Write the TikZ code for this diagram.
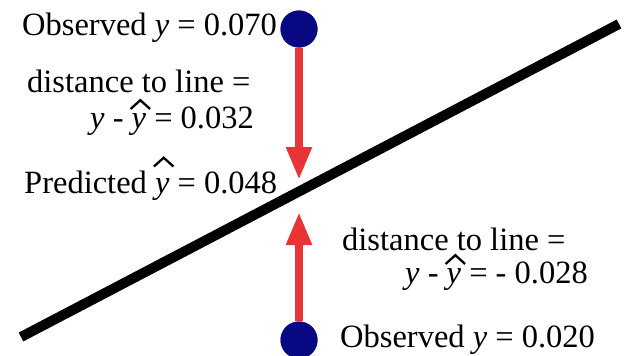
\documentclass[tikz,border=0pt]{standalone}
\usepackage{fontspec}
\setmainfont{Liberation Serif}
\usetikzlibrary{arrows.meta}
\definecolor{dotblue}{RGB}{8,8,130}
\definecolor{arrowred}{RGB}{232,52,52}
\newcommand\hatmark[1]{\makebox[0pt][l]{\hspace*{-0.07em}\raisebox{#1}{\tikz\draw[line width=2.3pt,line join=miter,line cap=butt] (0,0) -- (0.3em,0.27em) -- (0.6em,0);}}}
\newcommand\yhat[1][0.55em]{\hatmark{#1}\textit{y}}
\begin{document}
\begin{tikzpicture}[x=1pt,y=-1pt,
  lbl/.style={inner sep=0pt, anchor=base west, font=\fontsize{32.5}{39}\selectfont},
  dot/.style={circle, fill=dotblue, minimum size=37pt, inner sep=0pt},
  dist/.style={draw=arrowred, fill=arrowred, line width=8pt, -{Triangle[width=24pt,length=33pt]}}]
\useasboundingbox (0,0) rectangle (624,356);
\coordinate (L1) at (21,337);
\coordinate (L2) at (619,24);
\draw[line width=10pt] (L1) -- (L2);
\node[dot] (obsA) at (299,29) {};
\node[dot] (obsB) at (299,340) {};
\coordinate (tipA) at (299,180);
\coordinate (tipB) at (299,212);
\draw[dist] (obsA) -- (tipA);
\draw[dist] (obsB) -- (tipB);
\node[dot] at (obsA) {};
\node[dot] at (obsB) {};
\node[lbl] (obsAtext) at (22,35) {Observed \textit{y} = 0.070};
\node[lbl] (distA1) at (27,92) {distance to line =};
\node[lbl] (distA2) at (90,128) {\textit{y} - \yhat{} = 0.032};
\node[lbl] (pred) at (24,193) {Predicted \yhat[0.78em]{} = 0.048};
\node[lbl] (distB1) at (342,250) {distance to line =};
\node[lbl] (distB2) at (405,283) {\textit{y} - \yhat{} = - 0.028};
\node[lbl] (obsBtext) at (340,347) {Observed \textit{y} = 0.020};
\end{tikzpicture}
\end{document}
